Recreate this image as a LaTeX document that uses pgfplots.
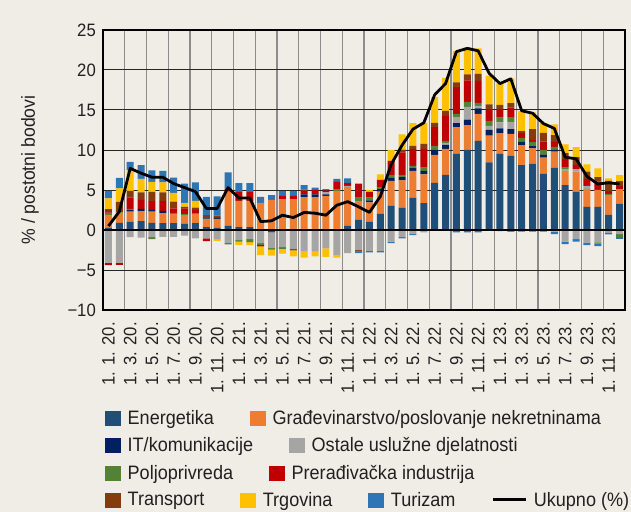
\documentclass[border=0pt]{standalone}
\usepackage{pgfplots}
\pgfplotsset{compat=1.18}
\usepackage{pgfplotstable}
\usepackage{fontspec}
\setmainfont{Liberation Sans}[FakeStretch=0.93]

\definecolor{bgc}{HTML}{F0EDE7}
\definecolor{cE}{HTML}{1F4E79}
\definecolor{cG}{HTML}{ED7D31}
\definecolor{cIT}{HTML}{002060}
\definecolor{cOst}{HTML}{A5A5A5}
\definecolor{cPol}{HTML}{548235}
\definecolor{cPr}{HTML}{C00000}
\definecolor{cTran}{HTML}{843C0C}
\definecolor{cTrg}{HTML}{FFC000}
\definecolor{cTur}{HTML}{2E75B6}
\definecolor{txt}{HTML}{231F20}

% positive contributions and total (Ukupno)
\pgfplotstableread{
i E G IT Ost Pol Pr Tran Trg Tur Tot
0 0.3 1.6 0 0 0.2 0.1 0.4 1.35 0.95 0.5
1 0.9 1.2 0 0 0.1 0 1.3 1.7 1.3 2.3
2 1.0 1.3 0.25 0 0.1 1.4 0.85 2.6 1.0 7.7
3 1.1 1.25 0.3 0 0 1.1 0.95 1.7 1.7 7.1
4 0.9 1.4 0.2 0 0 1.1 1.15 1.25 1.45 6.6
5 0.85 1.25 0.3 0 0 1.25 1.05 1.25 1.45 6.6
6 0.85 1.15 0 0 0.15 0.55 0.85 1.1 1.9 5.8
7 0.75 1.1 0 0 0.15 0.7 0.2 0.5 2.4 5.3
8 0.85 1.15 0 0 0.1 0.4 0.3 0.85 2.3 4.8
9 0.35 1.0 0.1 0 0 0 0.4 0 2.3 2.7
10 0.3 1.1 0.1 0 0 0 0.3 0 2.4 2.7
11 0.5 4.3 0 0 0 0.3 0 0 2.1 5.3
12 0.35 3.3 0 0 0 1.1 0 0 1.1 4.0
13 0.35 3.3 0 0 0 1.1 0 0 1.1 4.0
14 0.1 3.3 0 0 0 0 0 0 0.75 1.05
15 0 3.75 0 0 0 0 0 0 0.6 1.15
16 0 3.85 0 0 0 0.4 0 0 0.6 1.85
17 0 3.85 0 0 0 0.4 0 0 0.6 1.55
18 0 4.1 0.35 0 0 0.45 0.15 0 0.55 2.2
19 0 4.1 0.35 0 0 0.55 0 0 0.3 2.1
20 0 4.25 0.2 0.25 0 0.25 0 0 0.15 1.85
21 0 4.9 0 0 0.15 0.95 0 0 0.4 3.1
22 0.5 4.85 0 0.15 0 0.4 0 0 0.55 3.55
23 1.3 2.3 0 0 0.5 1.7 0 0 0 2.9
24 1.05 2.4 0.25 0 0.35 0.7 0 0.25 0 2.2
25 2.0 2.8 0.3 0 0.3 0.85 0 0.7 0 4.2
26 3.05 3.1 0.35 0 0.35 1.8 0 1.35 0 8.2
27 2.8 3.4 0.4 0 0.3 2.8 0.35 1.9 0 10.6
28 4.05 3.35 0.4 0 0.2 2.1 0.4 2.85 0 12.6
29 3.35 3.6 0.45 0 0.4 2.35 0.6 2.65 0 13.4
30 5.9 3.5 0.6 0 0.5 2.35 0.55 3.2 0 16.9
31 6.9 3.25 0.5 0.2 0.3 3.1 0.65 4.1 0 18.3
32 9.5 3.35 0.5 0.75 0.4 3.35 0.6 3.95 0 22.3
33 10.0 3.1 0.7 1.6 0.6 2.7 0.75 3.4 0 22.7
34 11.15 3.35 0.7 0.3 0.4 2.75 0.85 3.2 0 22.4
35 8.45 3.35 0.7 0.5 0.65 1.4 0.65 3.6 0 19.6
36 9.5 2.6 0.6 0.75 0.6 1.05 0.55 2.7 0 18.3
37 9.25 2.75 0.6 0.9 0.6 1.2 0.55 3.1 0 18.9
38 8.1 2.5 0.4 0 0.5 0.6 0.25 2.5 0 14.9
39 8.25 1.95 0.35 0 0.45 0.25 1.35 2.1 0 14.6
40 7.0 2.05 0.35 0 0.6 1.05 1.1 1.25 0 13.3
41 7.8 2.0 0.2 0 0.4 0.6 0.85 1.35 0 12.7
42 5.6 1.8 0 0.2 0.2 1.1 0.7 1.1 0 9.1
43 4.8 2.5 0 0.3 0 0.55 0.95 1.25 0 8.9
44 2.9 2.25 0 0.35 0 0.9 0.9 0.9 0 6.7
45 2.9 2.1 0 0 0 1.05 0.55 1.1 0 5.75
46 1.9 2.5 0 0 0.1 0.35 1.3 0.3 0 5.9
47 3.25 1.85 0 0 0 0.4 0.6 0.75 0 5.75
}\pos

% negative contributions
\pgfplotstableread{
i E Ost Pol Pr Tran Trg Tur
0 0 -4.1 0 -0.3 0 0 0
1 0 -4.1 0 -0.25 0 0 0
2 0 -0.9 0 0 0 0 0
3 0 -0.95 0 0 0 0 0
4 0 -0.9 -0.25 0 0 0 0
5 0 -0.85 0 0 0 0 0
6 0 -0.85 0 0 0 0 0
7 0 -0.7 0 0 0 0 0
8 0 -1.05 0 0 0 0 0
9 0 -1.05 0 -0.35 0 0 0
10 0 -1.15 0 0 0 -0.2 0
11 0 -1.6 -0.2 0 0 0 0
12 0 -1.25 -0.2 0 0 -0.4 0
13 0 -1.15 -0.35 0 0 -0.4 0
14 0 -1.65 -0.2 -0.2 0 -1.1 0
15 -0.3 -1.95 -0.2 0 0 -0.75 0
16 0 -2.15 -0.2 0 0 -0.6 0
17 0 -2.4 0 0 -0.15 -0.75 0
18 0 -2.6 0 0 0 -0.85 0
19 0 -2.7 0 0 0 -0.6 0
20 0 -2.3 0 0 0 -1.05 0
21 0 -3.1 0 0 0 -0.35 0
22 0 -2.9 0 0 0 0 0
23 0 -2.5 0 0 -0.2 0 -0.2
24 0 -2.6 0 0 0 0 -0.2
25 0 -2.6 0 0 0 0 -0.2
26 0 -1.45 0 0 0 0 -0.2
27 0 -0.9 0 0 0 0 -0.15
28 0 -0.5 0 0 0 0 -0.15
29 0 -0.3 0 0 0 0 0
30 0 0 0 0 0 0 0
31 0 0 0 0 0 0 0
32 0 0 0 0 0 0 -0.3
33 0 0 0 0 0 0 -0.3
34 0 0 0 0 0 0 -0.3
35 0 0 0 0 0 0 -0.1
36 0 0 0 0 0 0 -0.15
37 -0.2 0 0 0 0 0 0
38 0 0 0 0 0 0 -0.2
39 0 0 0 0 0 0 -0.2
40 0 0 0 0 0 0 -0.2
41 0 -0.2 0 0 0 0 -0.3
42 0 -1.45 0 0 0 0 -0.3
43 0 -1.15 0 0 0 0 -0.3
44 0 -1.6 0 0 0 0 -0.3
45 0 -1.55 -0.15 0 0 0 -0.3
46 0 -0.35 0 0 0 0 -0.2
47 0 -0.5 -0.4 0 0 0 -0.2
}\neg

\pgfplotsset{
  base/.style={width=522bp, height=280bp, scale only axis,
    xmin=-0.5, xmax=47.5, ymin=-10, ymax=25, at={(0,0)}, anchor=south west},
  sqimg/.style={legend image code/.code={\fill[##1, draw=none] (0bp,-8bp) rectangle (16bp,7bp);}},
  lnimg/.style={legend image code/.code={\draw[##1] (0bp,0bp) -- (33bp,0bp);}},
  legrow/.style={hide axis, legend columns=-1,
    legend style={draw=none, fill=none, inner sep=0pt, at={(0.0038,#1)}, anchor=west,
      font=\fontsize{19.5}{20}\selectfont, text=txt, nodes={inner sep=0pt},
      /tikz/every odd column/.append style={column sep=6.5bp},
      /tikz/every even column/.append style={column sep=36bp}}},
}

\begin{document}
\begin{tikzpicture}[font=\fontsize{18}{20}\selectfont]
\fill[bgc] (-103bp,-202bp) rectangle (528bp,310bp);
\useasboundingbox (-103bp,-202bp) rectangle (528bp,310bp);

% axis 1: frame, grid, labels, negative parts
\begin{axis}[base, ybar stacked, bar width=0.65,
  xtick={0,2,...,46},
  xticklabels={1. 1. 20., 1. 3. 20., 1. 5. 20., 1. 7. 20., 1. 9. 20., 1. 11. 20.,
               1. 1. 21., 1. 3. 21., 1. 5. 21., 1. 7. 21., 1. 9. 21., 1. 11. 21.,
               1. 1. 22., 1. 3. 22., 1. 5. 22., 1. 7. 22., 1. 9. 22., 1. 11. 22.,
               1. 1. 23., 1. 3. 23., 1. 5. 23., 1. 7. 23., 1. 9. 23., 1. 11. 23.},
  minor xtick={1.5,3.5,...,45.5}, xminorgrids=true,
  minor grid style={draw=black!45, line width=1.4bp},
  ytick={-10,-5,...,25}, yticklabels={−10,−5,0,5,10,15,20,25},
  ymajorgrids=true, major grid style={draw=black!85, line width=1bp},
  major tick length=0pt, minor tick length=0pt,
  axis line style={black, line width=1.2bp},
  xticklabel style={rotate=90, anchor=east, inner sep=0pt, text=txt},
  xticklabel shift=12bp,
  yticklabel style={inner sep=0pt, text=txt}, yticklabel shift=7bp,
  ylabel={\% / postotni bodovi},
  ylabel style={at={(axis description cs:-0.14,0.5)}, anchor=center,
    font=\fontsize{19}{20}\selectfont, text=txt},
]
\addplot[fill=cE, draw=none] table[x=i, y=E] {\neg};
\addplot[fill=cOst, draw=none] table[x=i, y=Ost] {\neg};
\addplot[fill=cPol, draw=none] table[x=i, y=Pol] {\neg};
\addplot[fill=cPr, draw=none] table[x=i, y=Pr] {\neg};
\addplot[fill=cTran, draw=none] table[x=i, y=Tran] {\neg};
\addplot[fill=cTrg, draw=none] table[x=i, y=Trg] {\neg};
\addplot[fill=cTur, draw=none] table[x=i, y=Tur] {\neg};
\end{axis}

% axis 2: positive parts
\begin{axis}[base, hide axis, ybar stacked, bar width=0.65]
\addplot[fill=cE, draw=none] table[x=i, y=E] {\pos};
\addplot[fill=cG, draw=none] table[x=i, y=G] {\pos};
\addplot[fill=cIT, draw=none] table[x=i, y=IT] {\pos};
\addplot[fill=cOst, draw=none] table[x=i, y=Ost] {\pos};
\addplot[fill=cPol, draw=none] table[x=i, y=Pol] {\pos};
\addplot[fill=cPr, draw=none] table[x=i, y=Pr] {\pos};
\addplot[fill=cTran, draw=none] table[x=i, y=Tran] {\pos};
\addplot[fill=cTrg, draw=none] table[x=i, y=Trg] {\pos};
\addplot[fill=cTur, draw=none] table[x=i, y=Tur] {\pos};
\end{axis}

% axis 3: zero line, total, last legend row
\begin{axis}[base, legrow=-0.678]
\addplot[black, line width=1.8bp, forget plot] coordinates {(-0.5,0) (47.5,0)};
\addplot[black, line width=2.8bp, line join=round, forget plot] table[x=i, y=Tot] {\pos};
\addlegendimage{sqimg, fill=cTran}
\addlegendentry{Transport}
\addlegendimage{sqimg, fill=cTrg}
\addlegendentry{Trgovina}
\addlegendimage{sqimg, fill=cTur}
\addlegendentry{Turizam}
\addlegendimage{lnimg, black, line width=2.8bp}
\addlegendentry{Ukupno (\%)}
\end{axis}

\begin{axis}[base, legrow=-0.3875]
\addlegendimage{sqimg, fill=cE}
\addlegendentry{Energetika}
\addlegendimage{sqimg, fill=cG}
\addlegendentry{Građevinarstvo/poslovanje nekretninama}
\end{axis}

\begin{axis}[base, legrow=-0.484]
\addlegendimage{sqimg, fill=cIT}
\addlegendentry{IT/komunikacije}
\addlegendimage{sqimg, fill=cOst}
\addlegendentry{Ostale uslužne djelatnosti}
\end{axis}

\begin{axis}[base, legrow=-0.582]
\addlegendimage{sqimg, fill=cPol}
\addlegendentry{Poljoprivreda}
\addlegendimage{sqimg, fill=cPr}
\addlegendentry{Prerađivačka industrija}
\end{axis}
\end{tikzpicture}
\end{document}
